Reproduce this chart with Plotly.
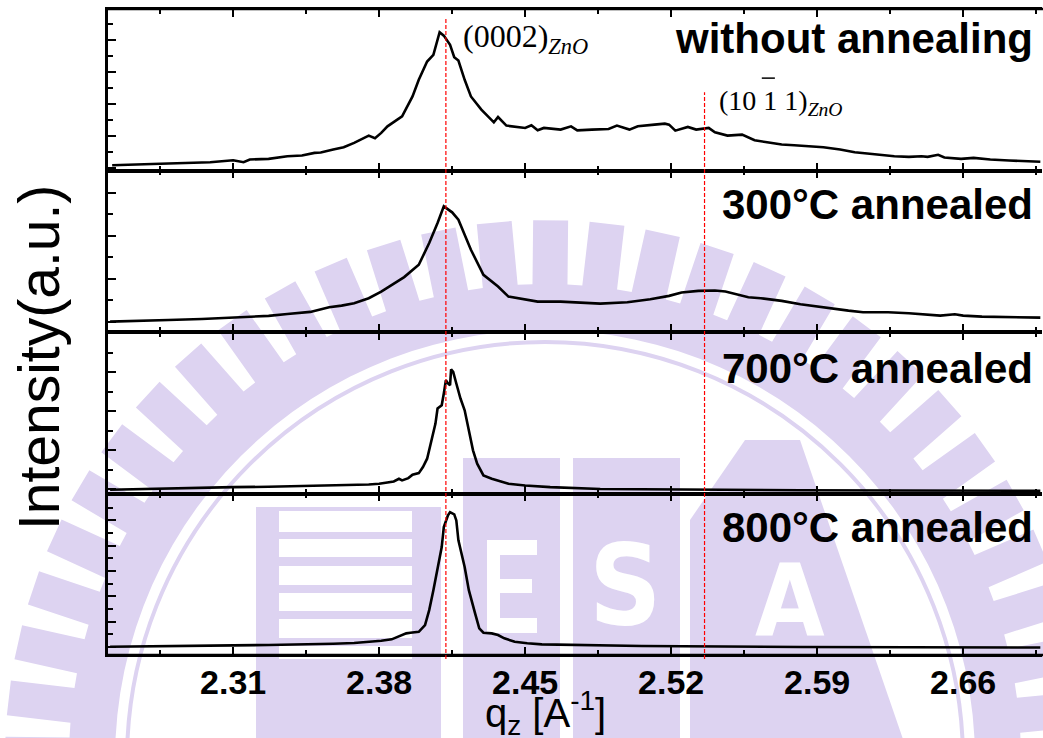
import math
import plotly.graph_objects as go
from plotly.subplots import make_subplots

# ---------------- data ----------------
# q_z in 1/Angstrom, intensity in arbitrary units
q_without = [2.252, 2.263, 2.279, 2.295, 2.299, 2.310, 2.315, 2.318, 2.327, 2.336, 2.343, 2.349,
             2.352, 2.358, 2.363, 2.368, 2.375, 2.378, 2.381, 2.384, 2.391, 2.396, 2.399, 2.403,
             2.406, 2.409, 2.411, 2.414, 2.416, 2.418, 2.421, 2.424, 2.429, 2.435, 2.437, 2.441,
             2.450, 2.453, 2.456, 2.459, 2.467, 2.472, 2.475, 2.482, 2.490, 2.494, 2.500, 2.504,
             2.509, 2.512, 2.517, 2.519, 2.522, 2.528, 2.532, 2.536, 2.538, 2.541, 2.547, 2.554,
             2.560, 2.566, 2.573, 2.579, 2.586, 2.593, 2.601, 2.608, 2.614, 2.621, 2.627, 2.634,
             2.640, 2.643, 2.648, 2.651, 2.659, 2.665, 2.673, 2.682, 2.689, 2.697]
i_without = [0.072, 0.103, 0.125, 0.156, 0.166, 0.228, 0.166, 0.250, 0.272, 0.353, 0.375, 0.459,
             0.469, 0.563, 0.634, 0.772, 1.000, 0.916, 1.084, 1.291, 1.603, 2.228, 2.750, 3.322,
             3.531, 4.241, 4.134, 3.844, 3.459, 3.353, 2.750, 2.228, 1.813, 1.416, 1.584, 1.313,
             1.241, 1.322, 1.166, 1.241, 1.188, 1.291, 1.166, 1.188, 1.209, 1.313, 1.188, 1.291,
             1.313, 1.344, 1.375, 1.344, 1.156, 1.272, 1.188, 1.209, 1.241, 1.103, 1.000, 1.031,
             0.853, 0.791, 0.719, 0.697, 0.666, 0.634, 0.563, 0.478, 0.438, 0.384, 0.353, 0.334,
             0.353, 0.334, 0.397, 0.313, 0.272, 0.303, 0.250, 0.219, 0.197, 0.178]

q_300 = [2.251, 2.263, 2.279, 2.295, 2.310, 2.327, 2.336, 2.347, 2.356, 2.362, 2.368, 2.375,
         2.381, 2.387, 2.392, 2.399, 2.404, 2.408, 2.411, 2.415, 2.418, 2.421, 2.424, 2.430,
         2.437, 2.442, 2.450, 2.456, 2.467, 2.477, 2.486, 2.499, 2.510, 2.519, 2.525, 2.533,
         2.541, 2.546, 2.550, 2.557, 2.563, 2.573, 2.582, 2.593, 2.605, 2.612, 2.624, 2.634,
         2.643, 2.649, 2.656, 2.660, 2.669, 2.682, 2.697]
i_300 = [0.007, 0.030, 0.047, 0.070, 0.100, 0.140, 0.186, 0.233, 0.342, 0.379, 0.435, 0.551,
         0.705, 0.884, 1.040, 1.326, 1.830, 2.295, 2.681, 2.542, 2.372, 2.023, 1.674, 1.093,
         0.821, 0.588, 0.512, 0.472, 0.472, 0.449, 0.426, 0.458, 0.528, 0.605, 0.681, 0.721,
         0.728, 0.705, 0.651, 0.574, 0.551, 0.488, 0.412, 0.333, 0.263, 0.226, 0.226, 0.202,
         0.170, 0.147, 0.179, 0.147, 0.123, 0.109, 0.100]

q_700 = [2.251, 2.263, 2.279, 2.295, 2.310, 2.327, 2.343, 2.358, 2.365, 2.375, 2.380, 2.384,
         2.387, 2.3895, 2.391, 2.394, 2.396, 2.399, 2.401, 2.403, 2.405, 2.407, 2.408, 2.410,
         2.411, 2.412, 2.413, 2.414, 2.4145, 2.4155, 2.417, 2.419, 2.421, 2.423, 2.425, 2.427,
         2.430, 2.434, 2.438, 2.442, 2.450, 2.456, 2.462, 2.486, 2.534, 2.582, 2.630, 2.697]
i_700 = [-0.008, 0.008, 0.026, 0.044, 0.059, 0.069, 0.085, 0.103, 0.110, 0.128, 0.146, 0.172,
         0.205, 0.274, 0.231, 0.290, 0.377, 0.418, 0.572, 0.787, 1.213, 1.685, 2.069, 2.154,
         2.454, 2.795, 2.710, 2.667, 3.069, 3.008, 2.710, 2.326, 2.026, 1.513, 1.000, 0.659,
         0.359, 0.274, 0.205, 0.146, 0.103, 0.077, 0.059, 0.013, -0.008, -0.021, -0.026, -0.033]

q_800 = [2.251, 2.263, 2.279, 2.295, 2.310, 2.327, 2.343, 2.358, 2.368, 2.375, 2.381, 2.386,
         2.389, 2.393, 2.395, 2.399, 2.402, 2.404, 2.406, 2.408, 2.410, 2.411, 2.413, 2.414,
         2.416, 2.417, 2.418, 2.421, 2.423, 2.426, 2.428, 2.430, 2.434, 2.437, 2.440, 2.445,
         2.451, 2.458, 2.506, 2.582, 2.697]
i_800 = [0.012, 0.028, 0.039, 0.051, 0.067, 0.079, 0.091, 0.130, 0.157, 0.197, 0.248, 0.303,
         0.406, 0.539, 0.563, 0.602, 0.866, 1.457, 2.244, 3.031, 3.949, 4.736, 5.197, 5.327,
         5.236, 5.000, 4.213, 3.161, 2.244, 1.327, 0.736, 0.563, 0.539, 0.472, 0.343, 0.209,
         0.146, 0.106, 0.039, 0.000, -0.020]

sample_labels = ["without annealing", "300°C annealed", "700°C annealed", "800°C annealed"]
peak_positions = [2.412, 2.536]          # (0002) and (10-11) ZnO reflections
x_tick_values = [2.31, 2.38, 2.45, 2.52, 2.59, 2.66]
x_tick_labels = ["2.31", "2.38", "2.45", "2.52", "2.59", "2.66"]

# ---------------- figure geometry ----------------
W, H = 1043, 738
ML, MR, MT, MB = 108, 1, 9, 83
PW, PH = W - ML - MR, H - MT - MB


def P(x, y):
    """page pixel -> paper coordinates (used only for the background watermark)"""
    return (x - ML) / PW, (H - MB - y) / PH


def path_from(points):
    s = "M " + " L ".join("%.5f,%.5f" % P(x, y) for x, y in points) + " Z"
    return s


series = [(q_without, i_without), (q_300, i_300), (q_700, i_700), (q_800, i_800)]
y_ranges = [[-0.094, 4.969], [-0.233, 3.512], [-0.103, 4.026], [-0.315, 6.063]]

fig = make_subplots(rows=4, cols=1, shared_xaxes=True, vertical_spacing=0)

# ---------------- faint background watermark (seal) ----------------
LAV = "#DDD3F1"
cx, cy = 545, 760
R_tip, R_root, R_in = 540, 476, 430
outer = []
for k in range(60):
    a = math.radians(0.6 + 6 * k)
    hr, ht = 17.5 / R_root, 17.5 / R_tip
    for R, da in ((R_root, -hr), (R_tip, -ht), (R_tip, ht), (R_root, hr)):
        outer.append((cx + R * math.sin(a + da), cy - R * math.cos(a + da)))
inner = [(cx + R_in * math.sin(math.radians(3 * j)), cy - R_in * math.cos(math.radians(3 * j)))
         for j in range(120)]
fig.add_shape(type="path", path=path_from(outer) + " " + path_from(inner[::-1]),
              xref="paper", yref="paper", fillcolor=LAV, line=dict(width=0), layer="below")
x0, y0 = P(cx - 418, cy - 418)
x1, y1 = P(cx + 418, cy + 418)
fig.add_shape(type="circle", xref="paper", yref="paper", x0=x0, y0=y0, x1=x1, y1=y1,
              line=dict(color=LAV, width=4), layer="below")


def rect(xa, ya, xb, yb, color):
    p0 = P(xa, ya)
    p1 = P(xb, yb)
    fig.add_shape(type="rect", xref="paper", yref="paper", x0=p0[0], y0=p0[1], x1=p1[0], y1=p1[1],
                  fillcolor=color, line=dict(width=0), layer="below")


# striped block
rect(256, 507, 441, 745, LAV)
for ya, yb in [(511, 532), (539, 557), (566, 585), (593, 611), (619, 638), (646, 659)]:
    rect(279, ya, 412, yb, "white")
# lettered block
rect(463, 458, 680, 745, LAV)
rect(560, 458, 573, 745, "white")
rect(487, 540, 500, 633, "white")
rect(487, 540, 537, 555, "white")
rect(487, 579, 532, 593, "white")
rect(487, 618, 537, 633, "white")
fig.add_shape(type="path", xref="paper", yref="paper", layer="below",
              path=path_from([(690, 745), (690, 520), (745, 440), (800, 440), (905, 745)]),
              fillcolor=LAV, line=dict(width=0))
for ch, xc, yc, sz in [("S", 625, 585, 112), ("A", 790, 600, 100)]:
    px_, py_ = P(xc, yc)
    fig.add_annotation(text="<b>%s</b>" % ch, xref="paper", yref="paper", x=px_, y=py_,
                       xanchor="center", yanchor="middle", showarrow=False,
                       font=dict(family="DejaVu Sans Condensed, Liberation Sans Narrow, sans-serif",
                                 size=sz, color="white"))

# ---------------- data traces ----------------
for r, (q, inten) in enumerate(series, start=1):
    fig.add_trace(go.Scatter(x=q, y=inten, mode="lines",
                             line=dict(color="black", width=2.6),
                             showlegend=False, hoverinfo="skip"), row=r, col=1)

axis_font = "Liberation Sans, Arial, sans-serif"

fig.update_xaxes(range=[2.25, 2.6978], showline=True, linecolor="black", linewidth=1.5,
                 mirror="ticks", ticks="inside", ticklen=8, tickwidth=2, tickcolor="black",
                 tickmode="array", tickvals=x_tick_values, ticktext=x_tick_labels,
                 minor=dict(ticks="inside", ticklen=5, tickwidth=2, tickcolor="black",
                            tickmode="array",
                            tickvals=[v + 0.035 for v in [2.24] + x_tick_values]),
                 showgrid=False, zeroline=False,
                 tickfont=dict(family=axis_font, size=34, color="black", weight="bold"))
fig.update_xaxes(ticklabelstandoff=-4, row=4, col=1)

for r in range(1, 5):
    fig.update_yaxes(range=y_ranges[r - 1], showline=True, linecolor="black", linewidth=2.5,
                     mirror=False, ticks="inside", ticklen=8, tickwidth=2, tickcolor="black",
                     tick0=0, dtick=1, showticklabels=False,
                     minor=dict(ticks="inside", ticklen=5, tickwidth=2, tickcolor="black",
                                dtick=0.5, tick0=0),
                     showgrid=False, zeroline=False, row=r, col=1)

# heavier outer frame (top and bottom edges)
for yy in (0, 1):
    fig.add_shape(type="line", xref="paper", yref="paper", x0=-0.0015, x1=1.002, y0=yy, y1=yy,
                  line=dict(color="black", width=2.6))

# peak marker lines spanning the panels
peak_tops = [0.986, 0.871]
for xp, yt in zip(peak_positions, peak_tops):
    fig.add_shape(type="line", xref="x", yref="paper", x0=xp, x1=xp, y0=-0.006, y1=yt,
                  line=dict(color="red", width=1.2, dash="4px,2px"))

# sample labels
label_y = [0.955, 0.697, 0.443, 0.198]
for txt, yy in zip(sample_labels, label_y):
    fig.add_annotation(text="<b>%s</b>" % txt, xref="paper", yref="paper", x=0.992, y=yy,
                       xanchor="right", yanchor="middle", showarrow=False,
                       font=dict(family=axis_font, size=42, color="black"))

serif = "Liberation Serif, Times New Roman, serif"
fig.add_annotation(text="(0002)<sub><i>ZnO</i></sub>", xref="paper", yref="paper",
                   x=0.378, y=0.955, xanchor="left", yanchor="middle", showarrow=False,
                   font=dict(family=serif, size=32, color="black"))
fig.add_annotation(text="(10 1 1)<sub><i>ZnO</i></sub>", xref="paper", yref="paper",
                   x=0.652, y=0.855, xanchor="left", yanchor="middle", showarrow=False,
                   font=dict(family=serif, size=28, color="black"))
# bar over the third Miller index
fig.add_shape(type="line", xref="paper", yref="paper", x0=0.700, x1=0.714, y0=0.893, y1=0.893,
              line=dict(color="black", width=1.5))

# axis titles
fig.add_annotation(text="q<sub>z</sub> [A<sup>-1</sup>]", xref="paper", yref="paper",
                   x=0.468, y=-0.09, xanchor="center", yanchor="middle", showarrow=False,
                   font=dict(family=axis_font, size=40, color="black"))
fig.add_annotation(text="Intensity(a.u.)", xref="paper", yref="paper",
                   x=-0.074, y=0.461, xanchor="center", yanchor="middle", showarrow=False,
                   textangle=-90, font=dict(family=axis_font, size=57, color="black"))

fig.update_layout(width=W, height=H, margin=dict(l=ML, r=MR, t=MT, b=MB),
                  plot_bgcolor="rgba(0,0,0,0)", paper_bgcolor="white", showlegend=False)

fig.write_html("out.html")
